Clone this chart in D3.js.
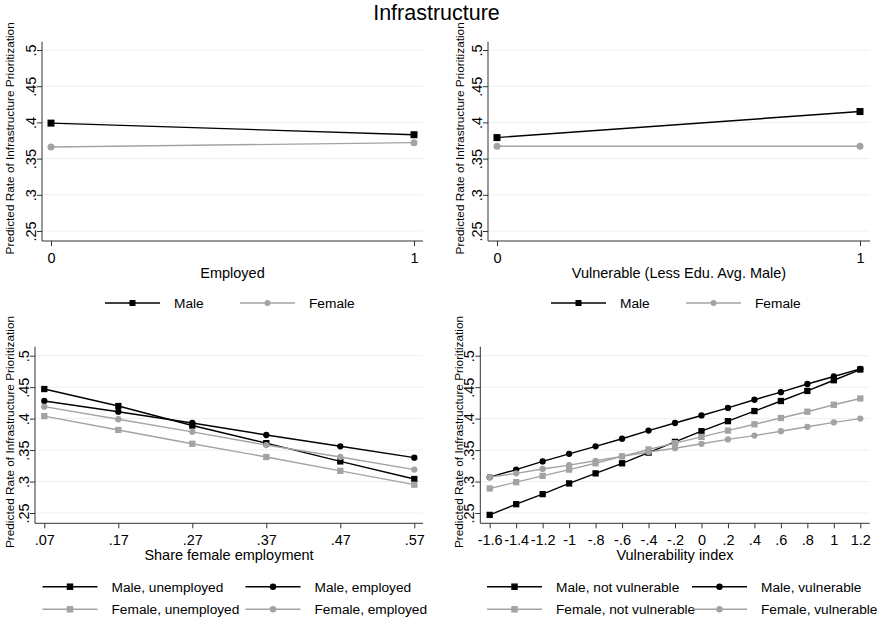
<!DOCTYPE html>
<html>
<head>
<meta charset="utf-8">
<script src="https://cdn.jsdelivr.net/npm/d3@7"></script>
<style>
  body { margin: 0; background: #fff; }
  svg { display: block; font-family: "Liberation Sans", Arial, Helvetica, sans-serif; }
</style>
</head>
<body>
<div id="vis"></div>
<script>
// y axis shared by all four panels
const yTicks = [0.25, 0.3, 0.35, 0.4, 0.45, 0.5]
const yTickLabels = [".25", ".3", ".35", ".4", ".45", ".5"]

// panel 1: employed
const employedX = [0, 1]
const employedLabels = ["0", "1"]
const employedMale = [0.399, 0.383]
const employedFemale = [0.366, 0.372]

// panel 2: vulnerable (less edu. than avg. male)
const vulnX = [0, 1]
const vulnLabels = ["0", "1"]
const vulnMale = [0.379, 0.415]
const vulnFemale = [0.367, 0.367]

// panel 3: share female employment
const shareX = [0.07, 0.17, 0.27, 0.37, 0.47, 0.57]
const shareLabels = [".07", ".17", ".27", ".37", ".47", ".57"]
const shareMaleUnemp = [0.447, 0.420, 0.389, 0.361, 0.332, 0.304]
const shareMaleEmp = [0.428, 0.411, 0.393, 0.374, 0.356, 0.338]
const shareFemUnemp = [0.404, 0.382, 0.360, 0.339, 0.317, 0.295]
const shareFemEmp = [0.419, 0.399, 0.379, 0.358, 0.339, 0.319]

// panel 4: vulnerability index
const indexX = [-1.6, -1.4, -1.2, -1, -0.8, -0.6, -0.4, -0.2, 0, 0.2, 0.4, 0.6, 0.8, 1, 1.2]
const indexLabels = ["-1.6", "-1.4", "-1.2", "-1", "-.8", "-.6", "-.4", "-.2", "0", ".2", ".4", ".6", ".8", "1", "1.2"]
const indexMaleNot = [0.247, 0.264, 0.280, 0.297, 0.313, 0.329, 0.346, 0.363, 0.380, 0.396, 0.412, 0.428, 0.444, 0.461, 0.478]
const indexMaleVul = [0.307, 0.319, 0.332, 0.344, 0.356, 0.368, 0.381, 0.393, 0.405, 0.417, 0.430, 0.442, 0.455, 0.467, 0.479]
const indexFemNot = [0.289, 0.299, 0.309, 0.319, 0.329, 0.340, 0.351, 0.361, 0.371, 0.381, 0.391, 0.401, 0.411, 0.422, 0.432]
const indexFemVul = [0.307, 0.313, 0.320, 0.326, 0.333, 0.340, 0.347, 0.353, 0.360, 0.367, 0.373, 0.380, 0.387, 0.394, 0.400]

const yTitle = "Predicted Rate of Infrastructure Prioritization"
const BLACK = "#000"
const GRAY = "#a3a3a3"
const GRID = "#e9f1f3"
const AXIS = "#333"

const width = 877
const height = 620

const svg = d3.select("#vis")
    .append("svg")
    .attr("width", width)
    .attr("height", height)

svg.append("rect").attr("width", width).attr("height", height).attr("fill", "#fff")

svg.append("text")
    .attr("x", 436.5)
    .attr("y", 19.5)
    .attr("text-anchor", "middle")
    .style("font-size", "21.5px")
    .text("Infrastructure")

function panel(cfg) {
    const g = svg.append("g")
    const x = d3.scaleLinear().domain(d3.extent(cfg.xs)).range(cfg.xRange)
    const y = d3.scaleLinear().domain([0.25, 0.5]).range(cfg.yRange)

    // grid
    g.selectAll(".grid")
        .data(yTicks)
        .join("line")
        .attr("x1", cfg.left).attr("x2", cfg.right)
        .attr("y1", d => y(d)).attr("y2", d => y(d))
        .attr("stroke", GRID)
        .attr("stroke-width", 1)

    // y axis
    const yAxis = g.append("g")
        .attr("transform", `translate(${cfg.left},0)`)
        .call(d3.axisLeft(y).tickValues(yTicks).tickSize(5)
            .tickFormat((d, i) => yTickLabels[i]))
    yAxis.select(".domain").remove()
    yAxis.selectAll("line").attr("stroke", AXIS)
    yAxis.selectAll("text")
        .attr("transform", "rotate(-90)")
        .attr("x", 0)
        .attr("y", -6)
        .attr("dy", 0)
        .attr("text-anchor", "middle")
        .attr("fill", "#000")
        .style("font-size", "14.5px")
        .style("font-family", "inherit")

    // x axis
    const xAxis = g.append("g")
        .attr("transform", `translate(0,${cfg.bottom})`)
        .call(d3.axisBottom(x).tickValues(cfg.xs).tickSize(5).tickPadding(6.5)
            .tickFormat((d, i) => cfg.xLabels[i]))
    xAxis.select(".domain").remove()
    xAxis.selectAll("line").attr("stroke", AXIS)
    xAxis.selectAll("text")
        .attr("fill", "#000")
        .style("font-size", "14.5px")
        .style("font-family", "inherit")

    // axis lines
    g.append("line")
        .attr("x1", cfg.left).attr("x2", cfg.left)
        .attr("y1", cfg.top).attr("y2", cfg.bottom)
        .attr("stroke", AXIS)
    g.append("line")
        .attr("x1", cfg.left).attr("x2", cfg.right)
        .attr("y1", cfg.bottom).attr("y2", cfg.bottom)
        .attr("stroke", AXIS)

    // titles
    g.append("text")
        .attr("transform", `translate(${cfg.yTitleX},${(cfg.top + cfg.bottom) / 2 - 3}) rotate(-90)`)
        .attr("text-anchor", "middle")
        .style("font-size", "11.8px")
        .text(yTitle)
    g.append("text")
        .attr("x", (cfg.left + cfg.right) / 2)
        .attr("y", cfg.bottom + 37)
        .attr("text-anchor", "middle")
        .style("font-size", "14.5px")
        .text(cfg.xTitle)

    // series
    const line = d3.line().x(d => x(d[0])).y(d => y(d[1]))
    cfg.series.forEach(s => {
        const pts = cfg.xs.map((v, i) => [v, s.values[i]])
        g.append("path")
            .attr("d", line(pts))
            .attr("fill", "none")
            .attr("stroke", s.color)
            .attr("stroke-width", 1.4)
        drawMarkers(g, pts.map(p => [x(p[0]), y(p[1])]), s.shape, s.color, cfg.markerSize)
    })

    // legend
    cfg.legend.forEach(l => {
        g.append("line")
            .attr("x1", l.x).attr("x2", l.x + 55)
            .attr("y1", l.y).attr("y2", l.y)
            .attr("stroke", l.color)
            .attr("stroke-width", 1.4)
        drawMarkers(g, [[l.x + 27.5, l.y]], l.shape, l.color, cfg.legendMarker)
        g.append("text")
            .attr("x", l.x + 69)
            .attr("y", l.y)
            .attr("dy", "0.36em")
            .style("font-size", "13.7px")
            .text(l.label)
    })
}

function drawMarkers(g, pts, shape, color, size) {
    if (shape === "square") {
        g.selectAll(null)
            .data(pts)
            .join("rect")
            .attr("x", d => d[0] - size / 2)
            .attr("y", d => d[1] - size / 2)
            .attr("width", size).attr("height", size)
            .attr("fill", color)
    } else {
        g.selectAll(null)
            .data(pts)
            .join("circle")
            .attr("cx", d => d[0]).attr("cy", d => d[1])
            .attr("r", size / 2)
            .attr("fill", color)
    }
}

panel({
    xs: employedX, xLabels: employedLabels, xTitle: "Employed",
    left: 42, right: 423, top: 41.7, bottom: 241,
    xRange: [51, 414], yRange: [231, 50], yTitleX: 13.5,
    markerSize: 7, legendMarker: 6,
    series: [
        { values: employedMale, color: BLACK, shape: "square" },
        { values: employedFemale, color: GRAY, shape: "circle" }
    ],
    legend: [
        { x: 105, y: 303, label: "Male", color: BLACK, shape: "square" },
        { x: 240, y: 303, label: "Female", color: GRAY, shape: "circle" }
    ]
})

panel({
    xs: vulnX, xLabels: vulnLabels, xTitle: "Vulnerable (Less Edu. Avg. Male)",
    left: 488, right: 870, top: 41.7, bottom: 241,
    xRange: [497, 860], yRange: [231, 50], yTitleX: 463.5,
    markerSize: 7, legendMarker: 6,
    series: [
        { values: vulnMale, color: BLACK, shape: "square" },
        { values: vulnFemale, color: GRAY, shape: "circle" }
    ],
    legend: [
        { x: 551, y: 303, label: "Male", color: BLACK, shape: "square" },
        { x: 686, y: 303, label: "Female", color: GRAY, shape: "circle" }
    ]
})

panel({
    xs: shareX, xLabels: shareLabels, xTitle: "Share female employment",
    left: 35, right: 423, top: 346.7, bottom: 523.3,
    xRange: [44.3, 414.3], yRange: [513, 355.7], yTitleX: 13.5,
    markerSize: 6.3, legendMarker: 6.5,
    series: [
        { values: shareMaleUnemp, color: BLACK, shape: "square" },
        { values: shareMaleEmp, color: BLACK, shape: "circle" },
        { values: shareFemUnemp, color: GRAY, shape: "square" },
        { values: shareFemEmp, color: GRAY, shape: "circle" }
    ],
    legend: [
        { x: 42.5, y: 586.7, label: "Male, unemployed", color: BLACK, shape: "square" },
        { x: 245.5, y: 586.7, label: "Male, employed", color: BLACK, shape: "circle" },
        { x: 42.5, y: 609.3, label: "Female, unemployed", color: GRAY, shape: "square" },
        { x: 245.5, y: 609.3, label: "Female, employed", color: GRAY, shape: "circle" }
    ]
})

panel({
    xs: indexX, xLabels: indexLabels, xTitle: "Vulnerability index",
    left: 480.3, right: 869.7, top: 346.7, bottom: 523.3,
    xRange: [489.7, 860.3], yRange: [513, 355.7], yTitleX: 463,
    markerSize: 6.3, legendMarker: 6.5,
    series: [
        { values: indexMaleNot, color: BLACK, shape: "square" },
        { values: indexMaleVul, color: BLACK, shape: "circle" },
        { values: indexFemNot, color: GRAY, shape: "square" },
        { values: indexFemVul, color: GRAY, shape: "circle" }
    ],
    legend: [
        { x: 487, y: 586.7, label: "Male, not vulnerable", color: BLACK, shape: "square" },
        { x: 692, y: 586.7, label: "Male, vulnerable", color: BLACK, shape: "circle" },
        { x: 487, y: 609.3, label: "Female, not vulnerable", color: GRAY, shape: "square" },
        { x: 692, y: 609.3, label: "Female, vulnerable", color: GRAY, shape: "circle" }
    ]
})
</script>
</body>
</html>
